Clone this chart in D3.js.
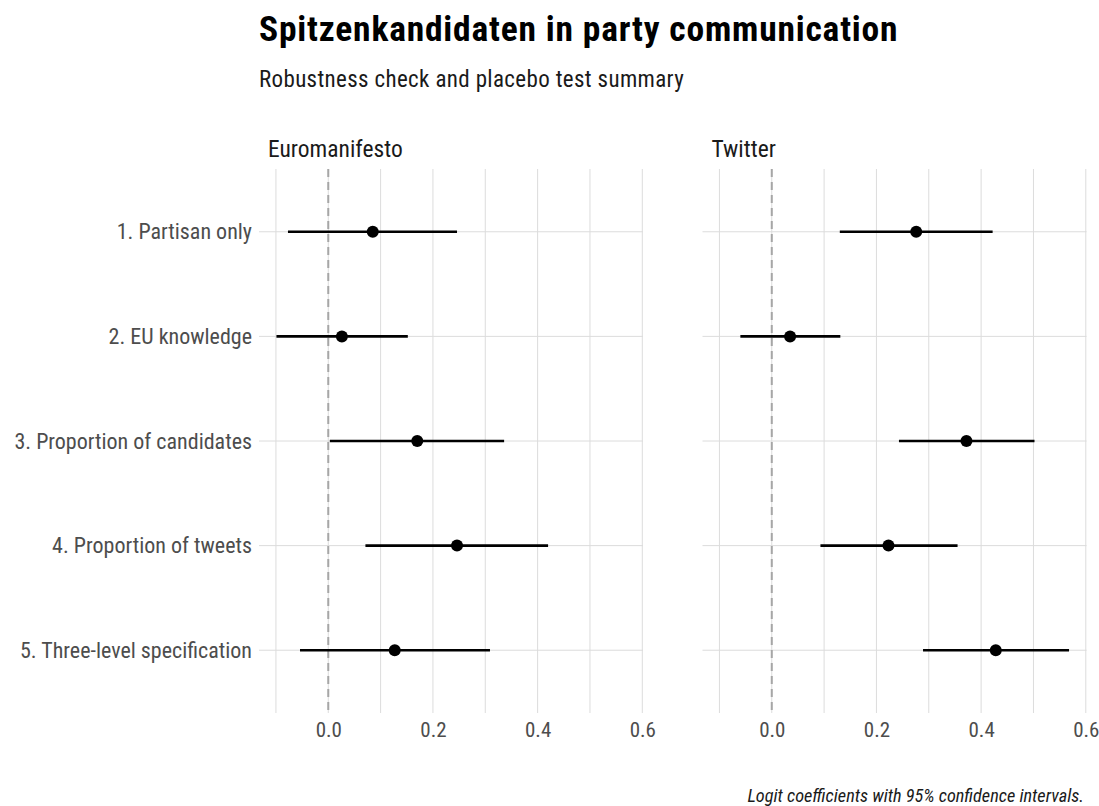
<!DOCTYPE html>
<html>
<head>
<meta charset="utf-8">
<script src="https://cdn.jsdelivr.net/npm/d3@7"></script>
<style>
  html, body { margin: 0; padding: 0; background: #fff; }
  svg { display: block; }
  text { font-family: "Liberation Sans Narrow", "Arial Narrow", "Roboto Condensed", sans-serif; }
</style>
</head>
<body>
<svg id="chart" width="1099" height="806"></svg>
<script>
// ---- data ----
const models = ["1. Partisan only", "2. EU knowledge", "3. Proportion of candidates", "4. Proportion of tweets", "5. Three-level specification"];
const panels = ["Euromanifesto", "Twitter"];
const euroEstimate = [0.085, 0.026, 0.170, 0.246, 0.127];
const euroLower    = [-0.077, -0.099, 0.003, 0.071, -0.054];
const euroUpper    = [0.246, 0.152, 0.336, 0.420, 0.309];
const twitEstimate = [0.276, 0.035, 0.372, 0.223, 0.428];
const twitLower    = [0.130, -0.060, 0.243, 0.093, 0.289];
const twitUpper    = [0.422, 0.131, 0.502, 0.355, 0.568];
const xTicks = [0.0, 0.2, 0.4, 0.6];
const xMinor = [-0.1, 0.1, 0.3, 0.5];
const titleText = "Spitzenkandidaten in party communication";
const subtitleText = "Robustness check and placebo test summary";
const captionText = "Logit coefficients with 95% confidence intervals.";

const panelData = [
  { name: panels[0], est: euroEstimate, lo: euroLower, hi: euroUpper },
  { name: panels[1], est: twitEstimate, lo: twitLower, hi: twitUpper }
];

// ---- layout ----
const svg = d3.select("#chart");
const panelTop = 169, panelBottom = 713;
const panelX = [[259, 643], [702.5, 1086.5]];
const allVals = euroLower.concat(euroUpper, twitLower, twitUpper);
const dmin = d3.min(allVals), dmax = d3.max(allVals);
const pad = (dmax - dmin) * 0.05;
const xDomain = [dmin - pad, dmax + pad];

const y = d3.scalePoint().domain(models).range([panelTop, panelBottom]).padding(0.6);

const gridColor = "#dcdcdc";

// title etc
svg.append("text").attr("x", 259).attr("y", 41)
  .attr("font-size", 35.5).attr("font-weight", "bold").attr("fill", "#000")
  .attr("letter-spacing", 0.8)
  .text(titleText);
svg.append("text").attr("x", 259).attr("y", 87)
  .attr("font-size", 23).attr("fill", "#1a1a1a")
  .attr("letter-spacing", 0.35)
  .text(subtitleText);
svg.append("text").attr("x", 1084).attr("y", 802)
  .attr("font-size", 18.3).attr("font-style", "italic").attr("fill", "#1a1a1a")
  .attr("text-anchor", "end")
  .text(captionText);

// y axis labels
svg.append("g").selectAll("text").data(models).join("text")
  .attr("x", 252).attr("y", d => y(d))
  .attr("dy", "0.35em")
  .attr("text-anchor", "end")
  .attr("font-size", 22).attr("fill", "#4d4d4d")
  .text(d => d);

panelData.forEach((p, i) => {
  const x = d3.scaleLinear().domain(xDomain).range(panelX[i]);
  const g = svg.append("g");

  // strip label
  g.append("text").attr("x", panelX[i][0] + 9).attr("y", 157)
    .attr("font-size", 23.5).attr("fill", "#1a1a1a")
    .text(p.name);

  // vertical grid (major + minor)
  g.append("g").selectAll("line").data(xTicks.concat(xMinor)).join("line")
    .attr("x1", d => x(d)).attr("x2", d => x(d))
    .attr("y1", panelTop).attr("y2", panelBottom)
    .attr("stroke", gridColor).attr("stroke-width", 1);

  // horizontal grid
  g.append("g").selectAll("line").data(models).join("line")
    .attr("x1", panelX[i][0]).attr("x2", panelX[i][1])
    .attr("y1", d => y(d)).attr("y2", d => y(d))
    .attr("stroke", gridColor).attr("stroke-width", 1);

  // x axis
  const axis = d3.axisBottom(x).tickValues(xTicks).tickFormat(d3.format(".1f")).tickSize(0).tickPadding(0);
  const ax = g.append("g").attr("transform", `translate(0,${panelBottom})`).call(axis);
  ax.select(".domain").remove();
  ax.selectAll("text")
    .attr("y", 24).attr("dy", 0)
    .attr("font-size", 21).attr("fill", "#4d4d4d")
    .style("font-family", "\"Liberation Sans Narrow\", \"Arial Narrow\", \"Roboto Condensed\", sans-serif");

  // zero reference line
  g.append("line")
    .attr("x1", x(0)).attr("x2", x(0))
    .attr("y1", panelTop).attr("y2", panelBottom)
    .attr("stroke", "#a6a6a6").attr("stroke-width", 2)
    .attr("stroke-dasharray", "8,5");

  // intervals
  g.append("g").selectAll("line").data(models).join("line")
    .attr("x1", (d, j) => x(p.lo[j])).attr("x2", (d, j) => x(p.hi[j]))
    .attr("y1", d => y(d)).attr("y2", d => y(d))
    .attr("stroke", "#000").attr("stroke-width", 2.6);

  // points
  g.append("g").selectAll("circle").data(models).join("circle")
    .attr("cx", (d, j) => x(p.est[j])).attr("cy", d => y(d))
    .attr("r", 6).attr("fill", "#000");
});
</script>
</body>
</html>
